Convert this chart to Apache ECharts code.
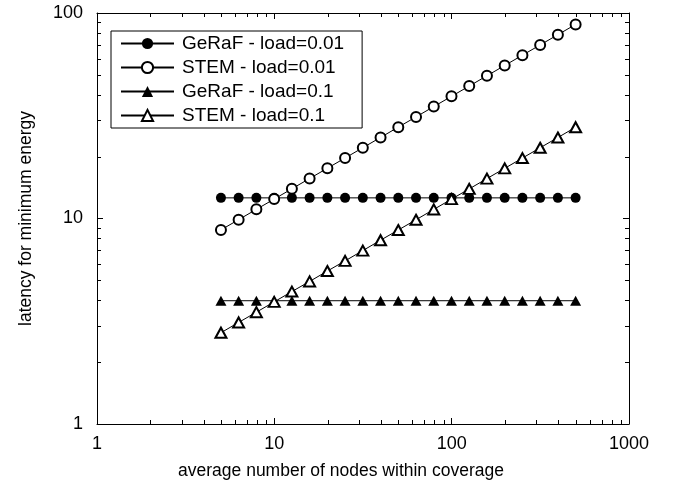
<!DOCTYPE html>
<html>
<head>
<meta charset="utf-8">
<script src="https://cdn.jsdelivr.net/npm/echarts@6/dist/echarts.min.js"></script>
<style>
html,body{margin:0;padding:0;background:#fff;}
#c{width:674px;height:485px;}
</style>
</head>
<body>
<div id="c"></div>
<script>
// average number of nodes within coverage
const nodes = [5, 6.29, 7.92, 9.98, 12.56, 15.81, 19.91, 25.06, 31.55, 39.72, 50.0, 62.95, 79.25, 99.77, 125.6, 158.1, 199.1, 250.6, 315.5, 397.2, 500];
// latency for minimum energy
const gerafLoad001 = [12.6,12.6,12.6,12.6,12.6,12.6,12.6,12.6,12.6,12.6,12.6,12.6,12.6,12.6,12.6,12.6,12.6,12.6,12.6,12.6,12.6];
const stemLoad001 = [8.80, 9.87, 11.08, 12.43, 13.95, 15.65, 17.56, 19.70, 22.10, 24.80, 27.83, 31.22, 35.03, 39.31, 44.11, 49.49, 55.53, 62.31, 69.91, 78.44, 88.0];
const gerafLoad01 = [3.98,3.98,3.98,3.98,3.98,3.98,3.98,3.98,3.98,3.98,3.98,3.98,3.98,3.98,3.98,3.98,3.98,3.98,3.98,3.98,3.98];
const stemLoad01 = [2.78, 3.12, 3.50, 3.93, 4.41, 4.94, 5.55, 6.22, 6.98, 7.84, 8.79, 9.86, 11.07, 12.42, 13.93, 15.64, 17.54, 19.68, 22.09, 24.78, 27.8];
const seriesNames = ['GeRaF - load=0.01', 'STEM - load=0.01', 'GeRaF - load=0.1', 'STEM - load=0.1'];
// minor tick values
const minorX = [2,3,4,5,6,7,8,9,20,30,40,50,60,70,80,90,200,300,400,500,600,700,800,900];
const minorY = [2,3,4,5,6,7,8,9,20,30,40,50,60,70,80,90];

const FONT = '"Liberation Sans", Arial, Helvetica, sans-serif';
const chart = echarts.init(document.getElementById('c'), null, {renderer: 'canvas'});

function pair(xs, ys) { return xs.map((x, i) => [x, ys[i]]); }
function px(v) { return Math.round(v) + 0.5; }
const tickStyle = {stroke: '#000', lineWidth: 1};
const MINOR = 4;

const axisCommon = {
  type: 'log', logBase: 10,
  axisLine: {show: true, lineStyle: {color: '#000', width: 1}},
  splitLine: {show: false},
  minorTick: {show: false},
};

const option = {
  backgroundColor: '#fff',
  animation: false,
  textStyle: {fontFamily: FONT},
  grid: {left: 97, right: 45, top: 13, bottom: 61, containLabel: false},
  xAxis: [
    Object.assign({}, axisCommon, {
      min: 1, max: 1000, position: 'bottom',
      axisTick: {show: true, inside: true, length: 6, lineStyle: {color: '#000'}},
      axisLabel: {show: true, color: '#000', fontSize: 18, fontFamily: FONT, margin: 11,
        formatter: v => String(Math.round(v))},
      name: 'average number of nodes within coverage',
      nameLocation: 'middle', nameGap: 38,
      nameTextStyle: {color: '#000', fontSize: 17.5, fontFamily: FONT, padding: [0, 44, 0, 0]}
    }),
    Object.assign({}, axisCommon, {
      min: 1, max: 1000, position: 'top',
      axisTick: {show: true, inside: true, length: 6, lineStyle: {color: '#000'}},
      axisLabel: {show: false}
    })
  ],
  yAxis: [
    Object.assign({}, axisCommon, {
      min: 1, max: 100, position: 'left',
      axisTick: {show: true, inside: true, length: 6, lineStyle: {color: '#000'}},
      axisLabel: {show: true, color: '#000', fontSize: 18, fontFamily: FONT, margin: 14,
        formatter: v => String(Math.round(v))},
      name: 'latency for minimum energy',
      nameLocation: 'middle', nameGap: 62, nameRotate: 90,
      nameTextStyle: {color: '#000', fontSize: 17.5, fontFamily: FONT}
    }),
    Object.assign({}, axisCommon, {
      min: 1, max: 100, position: 'right',
      axisTick: {show: true, inside: true, length: 6, lineStyle: {color: '#000'}},
      axisLabel: {show: false}
    })
  ],
  legend: {
    data: seriesNames,
    orient: 'vertical',
    left: 111, top: 31,
    padding: [3, 18, 3, 9],
    itemWidth: 53, itemHeight: 14, itemGap: 5,
    borderColor: '#000', borderWidth: 1,
    backgroundColor: '#fff',
    textStyle: {color: '#000', fontSize: 19, fontFamily: FONT, lineHeight: 14, padding: [0, 0, 0, 3]},
    selectedMode: false
  },
  series: [
    {
      name: seriesNames[0], type: 'line', data: pair(nodes, gerafLoad001),
      symbol: 'circle', symbolSize: 10,
      lineStyle: {color: '#000', width: 1},
      itemStyle: {color: '#000', borderColor: '#000', borderWidth: 0},
      z: 3
    },
    {
      name: seriesNames[1], type: 'line', data: pair(nodes, stemLoad001),
      symbol: 'emptyCircle', symbolSize: 10,
      lineStyle: {color: '#000', width: 1},
      itemStyle: {color: '#000', borderColor: '#000', borderWidth: 1},
      z: 3
    },
    {
      name: seriesNames[2], type: 'line', data: pair(nodes, gerafLoad01),
      symbol: 'triangle', symbolSize: [11, 10],
      lineStyle: {color: '#000', width: 1},
      itemStyle: {color: '#000', borderColor: '#000', borderWidth: 0},
      z: 3
    },
    {
      name: seriesNames[3], type: 'line', data: pair(nodes, stemLoad01),
      symbol: 'emptyTriangle', symbolSize: [11, 10],
      lineStyle: {color: '#000', width: 1},
      itemStyle: {color: '#000', borderColor: '#000', borderWidth: 1},
      z: 3
    },
    {
      name: 'minorX', type: 'custom', silent: true, clip: false, z: 2,
      xAxisIndex: 0, yAxisIndex: 0,
      data: minorX.map(v => [v, 1]),
      renderItem: function (params, api) {
        const v = api.value(0);
        const b = api.coord([v, 1]);
        const t = api.coord([v, 100]);
        return {type: 'group', children: [
          {type: 'line', shape: {x1: px(b[0]), y1: b[1], x2: px(b[0]), y2: b[1] - MINOR}, style: tickStyle},
          {type: 'line', shape: {x1: px(t[0]), y1: t[1], x2: px(t[0]), y2: t[1] + MINOR}, style: tickStyle}
        ]};
      }
    },
    {
      name: 'minorY', type: 'custom', silent: true, clip: false, z: 2,
      xAxisIndex: 0, yAxisIndex: 0,
      data: minorY.map(v => [1, v]),
      renderItem: function (params, api) {
        const v = api.value(1);
        const l = api.coord([1, v]);
        const r = api.coord([1000, v]);
        return {type: 'group', children: [
          {type: 'line', shape: {x1: l[0], y1: px(l[1]), x2: l[0] + MINOR, y2: px(l[1])}, style: tickStyle},
          {type: 'line', shape: {x1: r[0], y1: px(r[1]), x2: r[0] - MINOR, y2: px(r[1])}, style: tickStyle}
        ]};
      }
    }
  ]
};
chart.setOption(option);
</script>
</body>
</html>
